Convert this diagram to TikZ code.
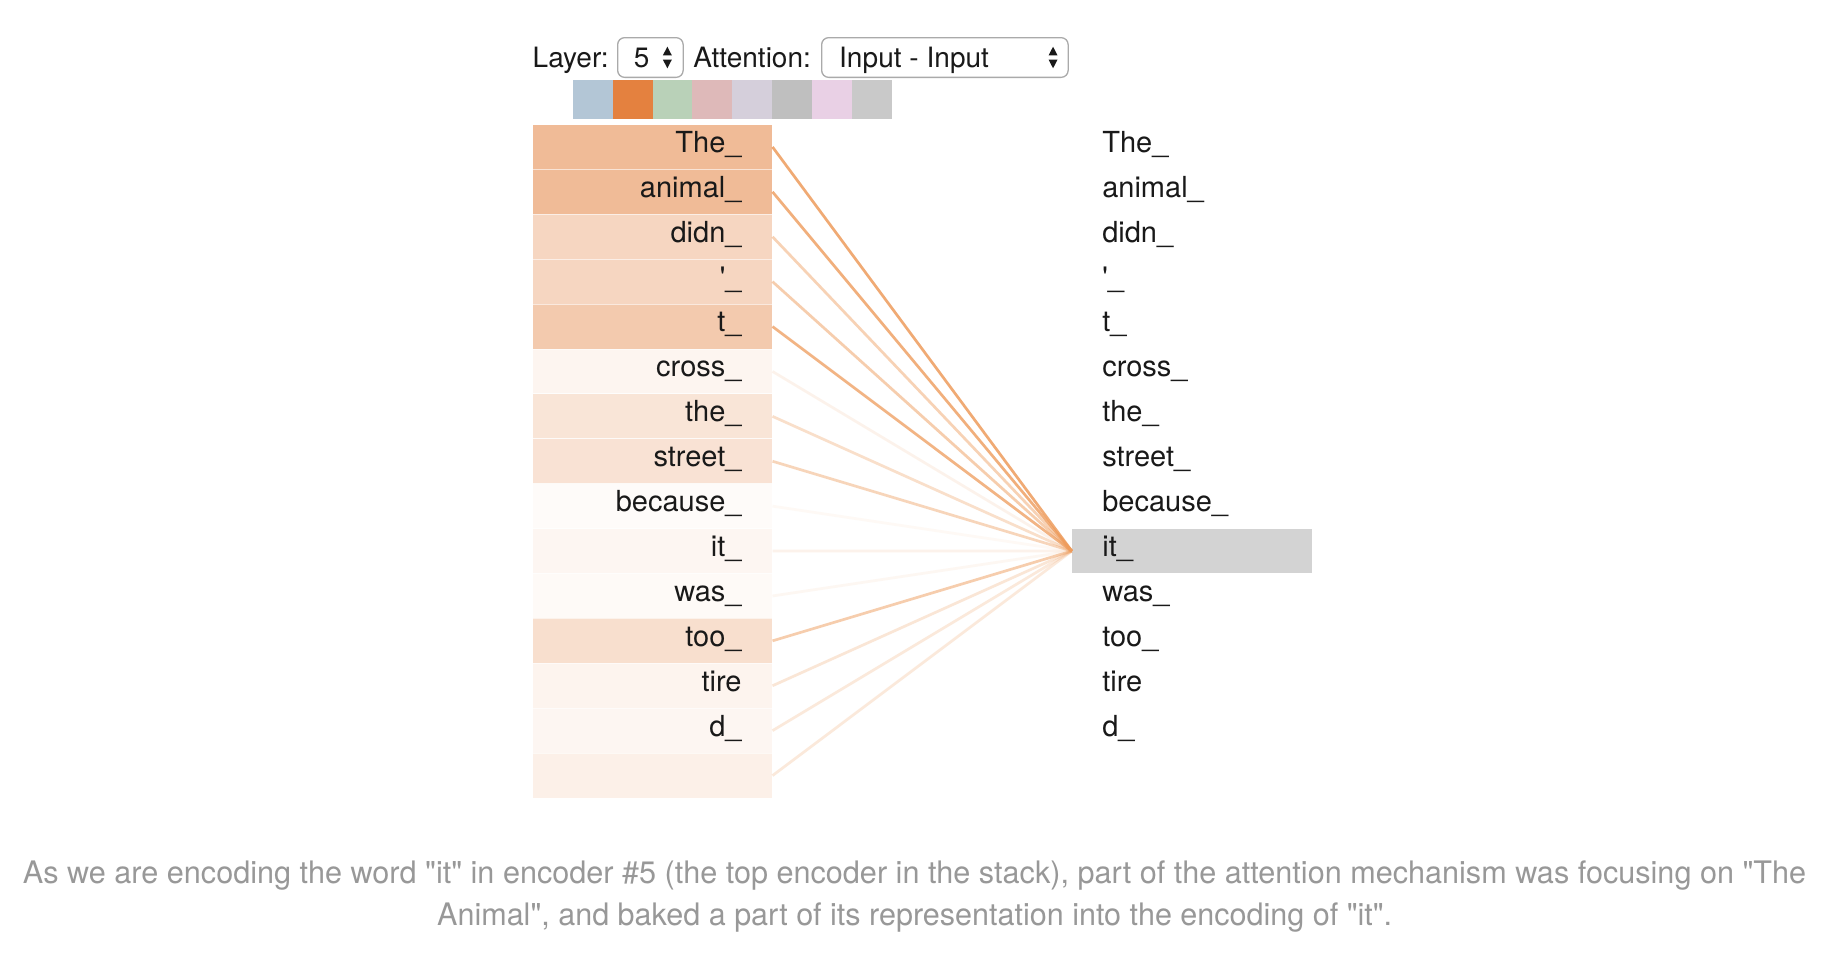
\documentclass[tikz,border=0pt]{standalone}
\usepackage{fontspec}
\usepackage{graphicx}
\setmainfont{TeX Gyre Heros}

% attention colours
\definecolor{attn}{RGB}{228,131,66}
\definecolor{attline}{RGB}{238,156,92}
\definecolor{selgray}{RGB}{211,211,211}
\definecolor{capgray}{RGB}{152,152,152}
\definecolor{boxgray}{RGB}{170,170,170}
\definecolor{ink}{RGB}{25,25,25}
\definecolor{swA}{HTML}{B3C6D6}
\definecolor{swB}{HTML}{E4813F}
\definecolor{swC}{HTML}{B9D1B8}
\definecolor{swD}{HTML}{DEB9B9}
\definecolor{swE}{HTML}{D5CFDB}
\definecolor{swF}{HTML}{BFBFBF}
\definecolor{swG}{HTML}{E9D0E5}
\definecolor{swH}{HTML}{C9C9C9}

\newcommand\capfont{\fontsize{31}{37}\selectfont}
\newcommand\dq{\textquotedbl}

\begin{document}
\begin{tikzpicture}[x=1pt,y=-1pt,
  tokfont/.style={font=\fontsize{29}{34}\selectfont, text=ink, inner sep=0pt},
  hdrfont/.style={font=\fontsize{28}{32}\selectfont, text=ink, inner sep=0pt},
  rowbox/.style={draw=white, draw opacity=0.6, line width=1pt, minimum width=239.5pt,
                 minimum height=44.9pt, inner sep=0pt, anchor=north west},
  selectbox/.style={draw=boxgray, fill=white, line width=1.3pt, rounded corners=7pt,
                    inner sep=0pt, anchor=north west},
  swatch/.style={minimum width=39.9pt, minimum height=39.4pt, inner sep=0pt, anchor=north west},
  attn link/.style={draw=attline, line width=2.7pt},
  updown/.style={fill=ink}]

\useasboundingbox[fill=white] (0,0) rectangle (1842,956);

% ---- header controls ----
\node[hdrfont, anchor=base west] (layerlbl) at (532.5,67.5) {Layer:};
\node[selectbox, minimum width=65.5pt, minimum height=39.7pt] (layerbox) at (617,37) {};
\node[hdrfont, anchor=base west] (layerval) at (633.6,67.5) {5};
\fill[updown] (662.9,55.3) -- (671.8,55.3) -- (667.35,46.7) -- cycle;
\fill[updown] (662.9,59.7) -- (671.8,59.7) -- (667.35,68.3) -- cycle;

\node[hdrfont, anchor=base west] (attlbl) at (693.2,67.5) {Attention:};
\node[selectbox, minimum width=246.5pt, minimum height=39.7pt] (attbox) at (821,37) {};
\node[hdrfont, anchor=base west] (attval) at (839,67.5) {Input - Input};
\fill[updown] (1048.6,55.3) -- (1057.5,55.3) -- (1053.05,46.7) -- cycle;
\fill[updown] (1048.6,59.7) -- (1057.5,59.7) -- (1053.05,68.3) -- cycle;

% ---- attention head swatches ----
\foreach \k/\c in {1/swA,2/swB,3/swC,4/swD,5/swE,6/swF,7/swG,8/swH}
  \node[swatch, fill=\c] (sw\k) at ({572.5+39.9*(\k-1)},79.3) {};

% ---- highlighted query token ----
\node[fill=selgray, minimum width=240pt, minimum height=43.7pt, inner sep=0pt,
      anchor=north west] (sel) at (1071.8,529) {};

% ---- key tokens (left), their weights and links ----
\foreach \i/\w/\p/\o in {
   1/The\_/55/0.85,
   2/animal\_/55/0.80,
   3/didn\_/33/0.45,
   4/\textquotesingle\_/33/0.50,
   5/t\_/43/0.75,
   6/cross\_/8/0.12,
   7/the\_/21/0.32,
   8/street\_/23/0.42,
   9/because\_/3/0.06,
  10/it\_/7/0.12,
  11/was\_/4/0.08,
  12/too\_/26/0.50,
  13/tire/9/0.25,
  14/d\_/7/0.22,
  15//12/0.22}{
  \node[rowbox, fill=attn!\p!white] (r\i) at (532,{124+44.9*(\i-1)}) {};
  \node[tokfont, anchor=base east] (k\i) at (741.7,{124+44.9*(\i-1)+28.3}) {\w};
  \draw[attn link, draw opacity=\o] (r\i.east) -- (sel.west);
}

% ---- query tokens (right) ----
\foreach \i/\w in {
   1/The\_, 2/animal\_, 3/didn\_, 4/\textquotesingle\_, 5/t\_, 6/cross\_, 7/the\_,
   8/street\_, 9/because\_, 10/it\_, 11/was\_, 12/too\_, 13/tire, 14/d\_}{
  \node[tokfont, anchor=base west] (q\i) at (1102.1,{124+44.9*(\i-1)+28.3}) {\w};
}

% ---- caption ----
\node[anchor=base west, inner sep=0pt, text=capgray] (cap1) at (22.7,883)
  {\resizebox{1783.3pt}{\height}{\capfont As we are encoding the word \dq it\dq{} in encoder \#5 (the top encoder in the stack), part of the attention mechanism was focusing on \dq The}};
\node[anchor=base west, inner sep=0pt, text=capgray] (cap2) at (437,925)
  {\resizebox{955pt}{\height}{\capfont Animal\dq, and baked a part of its representation into the encoding of \dq it\dq.}};

\end{tikzpicture}
\end{document}
